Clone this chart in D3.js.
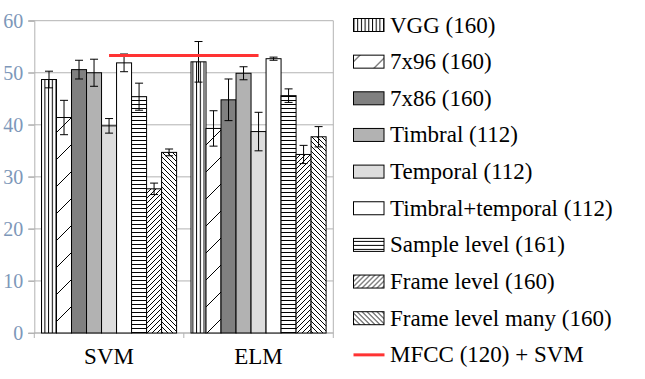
<!DOCTYPE html>
<html>
<head>
<meta charset="utf-8">
<script src="https://cdn.jsdelivr.net/npm/d3@7"></script>
<style>
  body { margin: 0; background: #fff; }
</style>
</head>
<body>
<svg width="645" height="379"></svg>
<script>
// Data
const categories = ["SVM", "ELM"];
const seriesNames = ["VGG (160)", "7x96 (160)", "7x86 (160)", "Timbral (112)", "Temporal (112)",
  "Timbral+temporal (112)", "Sample level (161)", "Frame level (160)", "Frame level many (160)"];
const svmValues = [48.7, 41.4, 50.6, 50.0, 39.8, 51.9, 45.4, 27.7, 34.7];
const svmErrors = [1.6, 3.3, 1.8, 2.6, 1.4, 1.7, 2.6, 1.1, 0.65];
const elmValues = [52.1, 39.3, 44.8, 49.9, 38.7, 52.7, 45.6, 34.3, 37.7];
const elmErrors = [3.9, 3.4, 4.0, 1.25, 3.7, 0.3, 1.3, 1.75, 1.95];
const mfccLabel = "MFCC (120) + SVM";
const mfccValue = 53.3;
const yTicks = [0, 10, 20, 30, 40, 50, 60];

const serif = '"Liberation Serif", "Tinos", "Times New Roman", "DejaVu Serif", serif';

const svg = d3.select("svg");

// Fill patterns for each series
const defs = svg.append("defs");
function linePattern(id, w, h, d) {
  const p = defs.append("pattern")
    .attr("id", id)
    .attr("patternUnits", "userSpaceOnUse")
    .attr("width", w).attr("height", h);
  p.append("rect").attr("width", w).attr("height", h).attr("fill", "#fff");
  p.append("path").attr("d", d).attr("stroke", "#000").attr("stroke-width", 1).attr("fill", "none");
}
linePattern("vert", 3.7, 4, "M0.5,0V4");
linePattern("wide", 27, 27, "M0,27L27,0M-1,1L1,-1M26,28L28,26");
linePattern("horiz", 4, 4, "M0,0.5H4");
linePattern("fwd", 5, 5, "M0,5L5,0M-1,1L1,-1M4,6L6,4");
linePattern("back", 5, 5, "M0,0L5,5M-1,4L1,6M4,-1L6,1");

const fills = ["url(#vert)", "url(#wide)", "#808080", "#b2b2b2", "#dddddd",
  "#ffffff", "url(#horiz)", "url(#fwd)", "url(#back)"];

// Scales
const x0 = d3.scaleBand().domain(categories).range([34.3, 333.3]);
const x1 = d3.scaleBand().domain(seriesNames).range([0, x0.bandwidth()])
  .paddingInner(0).paddingOuter(0.48);
const y = d3.scaleLinear().domain([0, 60]).range([333, 20.7]);

// Gridlines
svg.append("g")
  .selectAll("line")
  .data(yTicks)
  .join("line")
    .attr("x1", 28.3).attr("x2", 333.3)
    .attr("y1", d => y(d)).attr("y2", d => y(d))
    .attr("stroke", "#b3b3b3");

// Right border
svg.append("line")
  .attr("x1", 333.3).attr("x2", 333.3)
  .attr("y1", y(60)).attr("y2", y(0))
  .attr("stroke", "#b3b3b3");

// Y axis
const yAxis = svg.append("g")
  .attr("transform", "translate(34.3,0)")
  .call(d3.axisLeft(y).tickValues(yTicks).tickSize(6).tickPadding(5))
  .attr("font-family", serif)
  .attr("font-size", 20);
yAxis.select(".domain").attr("stroke", "#b3b3b3");
yAxis.selectAll(".tick line").attr("stroke", "#b3b3b3");
yAxis.selectAll(".tick text").attr("fill", "#7d97b9");

// X axis
const xAxis = svg.append("g")
  .attr("transform", `translate(0,${y(0)})`);
xAxis.append("line")
  .attr("x1", 34.3).attr("x2", 333.3)
  .attr("stroke", "#b3b3b3");
xAxis.selectAll("line.sep")
  .data([0, 1, 2])
  .join("line")
    .attr("class", "sep")
    .attr("x1", i => 34.3 + i * x0.step()).attr("x2", i => 34.3 + i * x0.step())
    .attr("y1", 0).attr("y2", 5)
    .attr("stroke", "#b3b3b3");
xAxis.selectAll("text")
  .data(categories)
  .join("text")
    .attr("x", d => x0(d) + x0.bandwidth() / 2)
    .attr("y", 31)
    .attr("text-anchor", "middle")
    .attr("font-family", serif)
    .attr("font-size", 23)
    .attr("fill", "#000")
    .text(d => d);

// Bars
const rows = [];
categories.forEach((c, ci) => {
  const vals = ci === 0 ? svmValues : elmValues;
  const errs = ci === 0 ? svmErrors : elmErrors;
  seriesNames.forEach((s, si) => rows.push({ cat: c, s, i: si, v: vals[si], e: errs[si] }));
});

svg.append("g")
  .selectAll("rect")
  .data(rows)
  .join("rect")
    .attr("x", d => x0(d.cat) + x1(d.s))
    .attr("y", d => y(d.v))
    .attr("width", x1.bandwidth())
    .attr("height", d => y(0) - y(d.v))
    .attr("fill", d => fills[d.i])
    .attr("stroke", "#000")
    .attr("stroke-width", 1);

// Error bars
const err = svg.append("g").attr("stroke", "#000").attr("stroke-width", 1);
const cx = d => x0(d.cat) + x1(d.s) + x1.bandwidth() / 2;
err.selectAll("line.v")
  .data(rows)
  .join("line")
    .attr("class", "v")
    .attr("x1", cx).attr("x2", cx)
    .attr("y1", d => y(d.v + d.e)).attr("y2", d => y(d.v - d.e));
err.selectAll("line.top")
  .data(rows)
  .join("line")
    .attr("class", "top")
    .attr("x1", d => cx(d) - 4).attr("x2", d => cx(d) + 4)
    .attr("y1", d => y(d.v + d.e)).attr("y2", d => y(d.v + d.e));
err.selectAll("line.bot")
  .data(rows)
  .join("line")
    .attr("class", "bot")
    .attr("x1", d => cx(d) - 4).attr("x2", d => cx(d) + 4)
    .attr("y1", d => y(d.v - d.e)).attr("y2", d => y(d.v - d.e));

// MFCC + SVM reference line, between the category centres
svg.append("path")
  .datum(categories)
  .attr("d", d3.line().x(c => x0(c) + x0.bandwidth() / 2).y(() => y(mfccValue)))
  .attr("stroke", "#ff3333")
  .attr("stroke-width", 3)
  .attr("fill", "none");

// Legend
const legendItems = seriesNames.map((s, i) => ({ name: s, fill: fills[i] }))
  .concat([{ name: mfccLabel, line: true }]);
const legend = svg.append("g")
  .selectAll("g")
  .data(legendItems)
  .join("g")
    .attr("transform", (d, i) => `translate(353.5,${25 + i * 36.65})`);

legend.filter(d => !d.line).append("rect")
  .attr("x", 0).attr("y", -6.5)
  .attr("width", 30.5).attr("height", 13)
  .attr("fill", d => d.fill)
  .attr("stroke", "#000");
legend.filter(d => d.line).append("line")
  .attr("x1", 0).attr("x2", 31)
  .attr("stroke", "#ff3333")
  .attr("stroke-width", 3);
legend.append("text")
  .attr("x", 36.5)
  .attr("y", 7.5)
  .attr("font-family", serif)
  .attr("font-size", 23)
  .attr("fill", "#000")
  .text(d => d.name);
</script>
</body>
</html>
